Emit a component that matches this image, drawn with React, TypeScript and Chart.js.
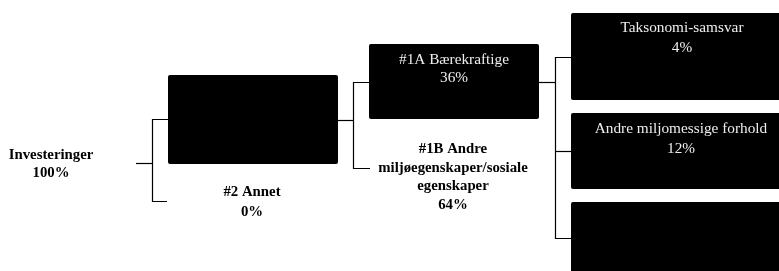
import React, { useEffect, useRef } from "react";
import { Chart, registerables } from "chart.js";

Chart.register(...registerables);

// ---- Data ----
const nodeNames = [
  "Investeringer",
  "#1 Tilpasset miljøegenskaper/sosiale egenskaper",
  "#2 Annet",
  "#1A Bærekraftige",
  "#1B Andre miljøegenskaper/sosiale egenskaper",
  "Taksonomi-samsvar",
  "Andre miljomessige forhold",
  "Sosiale",
];
const nodeShares = [100, 100, 0, 36, 64, 4, 12, 20];
// label lines shown for each node (null = not shown)
const nodeLines: (string[] | null)[] = [
  ["Investeringer"],
  null,
  ["#2 Annet"],
  ["#1A Bærekraftige"],
  ["#1B Andre", "miljøegenskaper/sosiale", "egenskaper"],
  ["Taksonomi-samsvar"],
  ["Andre miljomessige forhold"],
  null,
];

// ---- Layout (positions in the 779x271 coordinate system) ----
const W = 779;
const H = 271;
// box: [x0, y0, x1, y1] or null for plain text nodes
const nodeBoxes: (number[] | null)[] = [
  null,
  [168, 75, 338, 164],
  null,
  [369, 44, 539, 119],
  null,
  [571, 13, 790, 100],
  [571, 113, 790, 189],
  [571, 202, 790, 290],
];
// text anchor: [centerX, firstLineY, lineGap]
const nodeText: number[][] = [
  [51, 155, 18],
  [253, 120, 18],
  [252, 192, 20],
  [454, 60, 18],
  [453, 149, 18.7],
  [682, 28, 20],
  [681, 129, 19.5],
  [681, 225, 19.5],
];
const connectors: number[][][] = [
  [[136, 163.5], [152.5, 163.5]],
  [[168, 119.5], [152.5, 119.5], [152.5, 201.5], [167, 201.5]],
  [[338, 120.5], [353.5, 120.5]],
  [[369, 82.5], [353.5, 82.5], [353.5, 168.5], [370, 168.5]],
  [[539, 82.5], [555.5, 82.5]],
  [[571, 57.5], [555.5, 57.5], [555.5, 238.5], [571, 238.5]],
  [[555.5, 151.5], [571, 151.5]],
];

const FONT = "'Liberation Serif', 'Times New Roman', serif";

export default function App() {
  const ref = useRef<HTMLCanvasElement | null>(null);

  useEffect(() => {
    const canvas = ref.current;
    if (!canvas) return;

    const treePlugin = {
      id: "tree",
      beforeDatasetsDraw(chart: any) {
        const { ctx, scales } = chart;
        const xs = scales.x;
        const ys = scales.y;
        ctx.save();
        nodeBoxes.forEach((b) => {
          if (!b) return;
          const x0 = xs.getPixelForValue(b[0]);
          const x1 = xs.getPixelForValue(b[2]);
          const y0 = ys.getPixelForValue(b[1]);
          const y1 = ys.getPixelForValue(b[3]);
          ctx.fillStyle = "#000";
          ctx.beginPath();
          (ctx as any).roundRect(x0, y0, x1 - x0, y1 - y0, 2);
          ctx.fill();
        });
        ctx.restore();
      },
      afterDatasetsDraw(chart: any) {
        const { ctx, scales } = chart;
        const xs = scales.x;
        const ys = scales.y;
        ctx.save();
        ctx.textAlign = "center";
        ctx.textBaseline = "middle";
        nodeLines.forEach((lines, i) => {
          if (!lines) return;
          const inBox = nodeBoxes[i] !== null;
          ctx.fillStyle = inBox ? "#eeeeee" : "#000";
          ctx.font = inBox ? "15.3px " + FONT : "bold 14.8px " + FONT;
          const [cx, y0, gap] = nodeText[i];
          const all = [...lines, nodeShares[i] + "%"];
          all.forEach((t, k) => {
            ctx.fillText(t, xs.getPixelForValue(cx), ys.getPixelForValue(y0 + k * gap));
          });
        });
        ctx.restore();
      },
    };

    const chart = new Chart(canvas, {
      type: "scatter",
      data: {
        datasets: connectors.map((path) => ({
          data: path.map(([x, y]) => ({ x, y })),
          showLine: true,
          borderColor: "#000",
          borderWidth: 1.2,
          pointRadius: 0,
          fill: false,
          tension: 0,
        })),
      },
      options: {
        responsive: false,
        animation: false,
        devicePixelRatio: 1,
        layout: { padding: 0 },
        scales: {
          x: { type: "linear", min: 0, max: W, display: false },
          y: { type: "linear", min: 0, max: H, reverse: true, display: false },
        },
        plugins: {
          legend: { display: false },
          tooltip: { enabled: false },
        },
        events: [],
      },
      plugins: [treePlugin],
    } as any);

    return () => chart.destroy();
  }, []);

  return (
    <div style={{ position: "absolute", left: 0, top: 0, width: W, height: H, background: "#fff" }}>
      <canvas ref={ref} width={W} height={H} style={{ display: "block", width: W, height: H }} />
    </div>
  );
}
